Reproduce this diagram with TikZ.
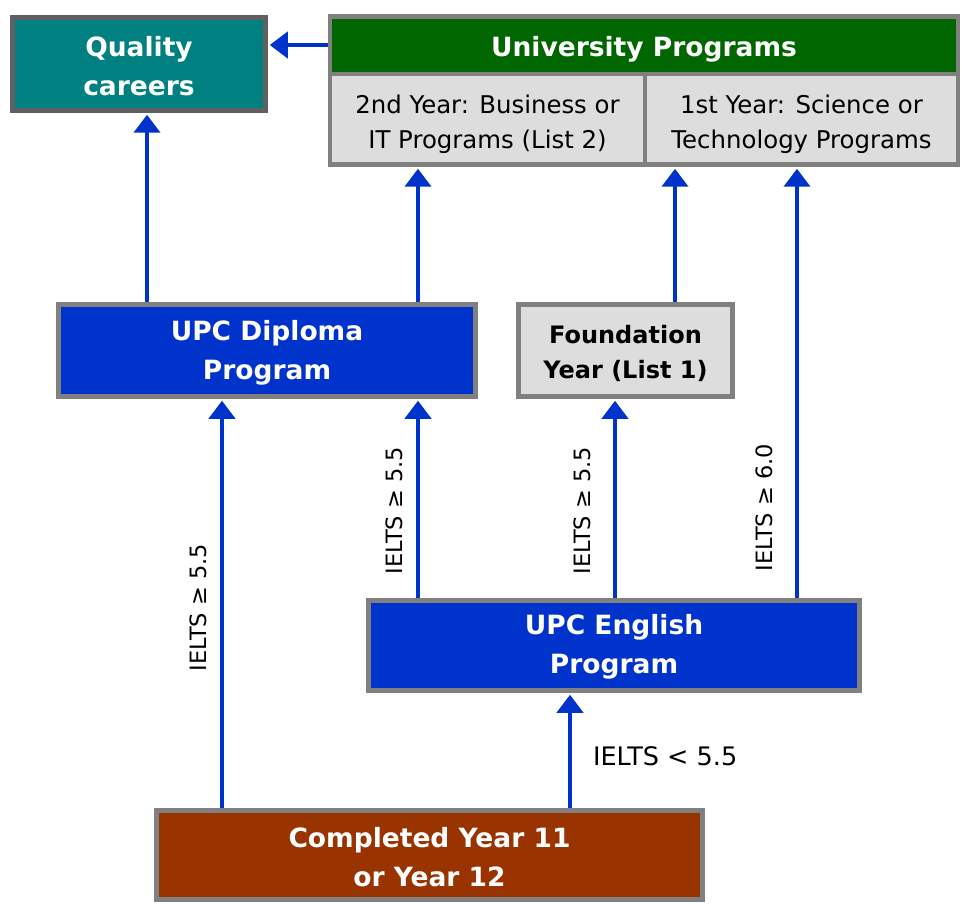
\documentclass[tikz,border=0pt]{standalone}
\usepackage{fontspec}
\setmainfont{DejaVu Sans}
\usetikzlibrary{arrows.meta}
\definecolor{tealc}{HTML}{008080}
\definecolor{greenc}{HTML}{006600}
\definecolor{bluec}{HTML}{0033CC}
\definecolor{brownc}{HTML}{993300}
\definecolor{lgray}{HTML}{DDDDDD}
\definecolor{bgray}{HTML}{808080}
\definecolor{dgray}{HTML}{606060}
\definecolor{arrc}{HTML}{0033CC}
\tikzset{
  box/.style={draw=bgray, line width=4.5pt, rectangle, inner sep=0pt},
  txt/.style={inner sep=0pt, align=center},
  boldtxt/.style={txt, font=\fontsize{26.5}{39}\selectfont\bfseries, text=white},
  regtxt/.style={txt, font=\fontsize{24.4}{35}\selectfont, text=black},
  arr/.style={draw=arrc, line width=4pt, -{Triangle[width=26pt,length=18pt]}, shorten >=2pt},
  lbl/.style={font=\fontsize{22.5}{26}\selectfont, text=black},
}
\begin{document}
\begin{tikzpicture}[x=1pt,y=-1pt]
\useasboundingbox (0,0) rectangle (962,904);
% boxes
\node[box, draw=dgray, fill=tealc, minimum width=253, minimum height=93] (qc) at (139,64) {};
\node[box, fill=greenc, minimum width=628, minimum height=57.5] (uph) at (644,45.25) {};
\node[box, fill=lgray, minimum width=315, minimum height=90.5] (upl) at (487.5,119.25) {};
\node[box, fill=lgray, minimum width=313, minimum height=90.5] (upr) at (801.5,119.25) {};
\node[box, fill=bluec, minimum width=417, minimum height=92] (dip) at (267,350.5) {};
\node[box, fill=lgray, minimum width=214, minimum height=92] (fnd) at (625.5,350.5) {};
\node[box, fill=bluec, minimum width=491, minimum height=90] (eng) at (614,645.5) {};
\node[box, fill=brownc, minimum width=546, minimum height=89] (cmp) at (429.5,855) {};
% texts
\node[boldtxt, yshift=-2pt] (qct) at (qc) {Quality\\careers};
\node[boldtxt, yshift=-4pt] (upht) at (uph) {University Programs};
\node[regtxt, yshift=-5pt] (uplt) at (upl) {2nd Year: Business or\\IT Programs (List 2)};
\node[regtxt, yshift=-5pt] (uprt) at (upr) {1st Year: Science or\\Technology Programs};
\node[boldtxt, yshift=-2pt] (dipt) at (dip) {UPC Diploma\\Program};
\node[boldtxt, text=black, font=\fontsize{24}{35}\selectfont\bfseries, yshift=-2.5pt] (fndt) at (fnd) {Foundation\\Year (List 1)};
\node[boldtxt, yshift=-1.5pt] (engt) at (eng) {UPC English\\Program};
\node[boldtxt, yshift=-2pt] (cmpt) at (cmp) {Completed Year 11\\or Year 12};
% x positions of connectors
\coordinate (xa) at (147,0);
\coordinate (xb) at (418,0);
\coordinate (xc) at (675,0);
\coordinate (xd) at (797,0);
\coordinate (xe) at (222,0);
\coordinate (xf) at (615,0);
\coordinate (xg) at (570,0);
\coordinate (ya) at (0,45);
% connectors
\draw[arr] (uph.west |- ya) -- (qc.east |- ya);
\draw[arr] (dip.north -| xa) -- (qc.south -| xa);
\draw[arr] (dip.north -| xb) -- (upl.south -| xb);
\draw[arr] (fnd.north -| xc) -- (upr.south -| xc);
\draw[arr] (eng.north -| xd) -- node[lbl, pos=0.21, sloped, above=19pt] {IELTS ≥ 6.0} (upr.south -| xd);
\draw[arr] (cmp.north -| xe) -- node[lbl, pos=0.49, sloped, above=10pt] {IELTS ≥ 5.5} (dip.south -| xe);
\draw[arr] (eng.north -| xb) -- node[lbl, pos=0.44, sloped, above=10pt] {IELTS ≥ 5.5} (dip.south -| xb);
\draw[arr] (eng.north -| xf) -- node[lbl, pos=0.44, sloped, above=19pt] {IELTS ≥ 5.5} (fnd.south -| xf);
\draw[arr] (cmp.north -| xg) -- node[regtxt, font=\fontsize{25.5}{30}\selectfont, pos=0.45, right=21pt] {IELTS < 5.5} (eng.south -| xg);
\end{tikzpicture}
\end{document}
